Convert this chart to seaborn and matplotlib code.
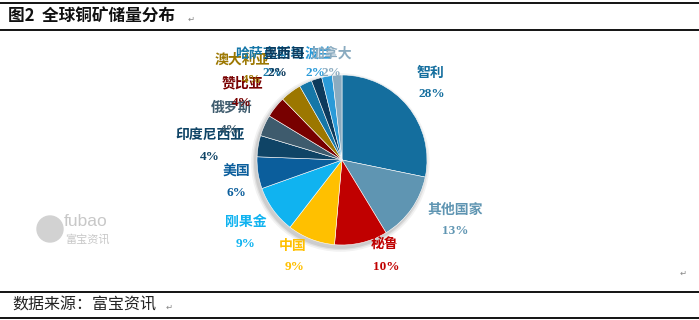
#!/usr/bin/env python3

# Import libraries
import matplotlib
matplotlib.use("Agg")
import matplotlib.pyplot as plt
import matplotlib.lines as mlines
import matplotlib.patches as mpatches
import seaborn as sns

# Data (share of global copper reserves, %)
countries = ["智利", "其他国家", "秘鲁", "中国", "刚果金", "美国", "印度尼西亚",
             "俄罗斯", "赞比亚", "澳大利亚", "哈萨克斯坦", "墨西哥", "波兰", "加拿大"]
shares = [28, 13, 10, 9, 9, 6, 4, 4, 4, 4, 2.4, 2, 2, 1.8]

# Slice / label colours
colors = ["#146e9e", "#5f95b2", "#c00000", "#ffc000", "#10b3f0", "#0b5e9c", "#0f4466",
          "#3e5b6d", "#780000", "#9c7700", "#1677a8", "#0d3a5c", "#2a9ad8", "#8aabc0"]

# Label anchors (name, percent) in pixels of the 699x320 picture
name_px = [(430, 73), (455, 210), (385, 245), (293, 246), (246, 222), (236, 172), (210, 135),
           (232, 108), (242, 83), (242, 60), (270, 54), (284, 54), (318, 54), (332, 54)]
pct_px = [(432, 94), (455, 231), (386, 267), (295, 267), (246, 244), (236, 193), (210, 157),
          (230, 130), (242, 103), (252, 80), (272, 73), (277, 73), (315, 73), (331, 73)]

W, H = 699, 320
CX, CY, R = 342, 160, 85
CJK = ["Noto Sans CJK SC", "DejaVu Sans"]


def px2data(p):
    ''' Convert a picture pixel to pie data units (radius = 1). '''
    return (p[0] - CX) / R, (CY - p[1]) / R


def plot():
    sns.set_style("white")
    plt.rcParams["font.family"] = CJK

    fig = plt.figure(figsize=(W / 100, H / 100), dpi=100)

    # Axes placed so the pie sits at (CX, CY) with radius R pixels
    ax_w, ax_h = 400, 240
    ax = fig.add_axes([(CX - ax_w / 2) / W, (H - CY - ax_h / 2) / H, ax_w / W, ax_h / H])

    # soft shadow under the pie
    for k, a in [(1.05, 0.10), (1.03, 0.15), (1.015, 0.2)]:
        ax.add_patch(mpatches.Circle((-0.02, -0.03), k, color="#808080", alpha=a, lw=0))

    ax.pie(shares, colors=colors, startangle=90, counterclock=False,
           wedgeprops=dict(linewidth=0.4, edgecolor="white"))
    ax.set_aspect("auto")
    ax.set_xlim(-ax_w / 2 / R, ax_w / 2 / R)
    ax.set_ylim(-ax_h / 2 / R, ax_h / 2 / R)
    ax.axis("off")

    for name, val, col, npx, ppx in zip(countries, shares, colors, name_px, pct_px):
        x, y = px2data(npx)
        ax.text(x, y, name, color=col, fontsize=10, fontweight="bold",
                ha="center", va="center", family=CJK)
        x, y = px2data(ppx)
        ax.text(x, y, "{:.0f}%".format(val), color=col, fontsize=9.5, fontweight="bold",
                ha="center", va="center", family=["Liberation Serif", "DejaVu Serif"])

    # Horizontal rules of the document table
    for yp in [3, 30, 292, 318]:
        fig.add_artist(mlines.Line2D([0, 1], [1 - yp / H, 1 - yp / H], color="black",
                                     linewidth=1.3, transform=fig.transFigure))

    # Title and source
    fig.text(8 / W, 1 - 17 / H, "图2  全球铜矿储量分布", fontsize=12, fontweight="bold",
             va="center", ha="left", color="#111111", family=CJK)
    fig.text(188 / W, 1 - 19 / H, "↵", fontsize=6, color="#888888", va="center", family=CJK)
    fig.text(12 / W, 1 - 305 / H, "数据来源：富宝资讯", fontsize=11.5,
             va="center", ha="left", color="#222222", family=CJK)
    fig.text(166 / W, 1 - 307 / H, "↵", fontsize=6, color="#888888", va="center", family=CJK)
    fig.text(680 / W, 1 - 273 / H, "↵", fontsize=6, color="#888888", va="center", family=CJK)

    # Faint fubao watermark
    fig.add_artist(mpatches.Ellipse((50 / W, 1 - 229 / H), 26 / W, 26 / H,
                                    color="#d2d2d2", transform=fig.transFigure))
    fig.text(64 / W, 1 - 221 / H, "fubao", fontsize=12.5, color="#c8c8c8",
             va="center", ha="left", family=["Liberation Sans", "DejaVu Sans"])
    fig.text(65 / W, 1 - 239 / H, "富宝资讯", fontsize=8, color="#c8c8c8",
             va="center", ha="left", family=CJK)

    return fig


def main():
    fig = plot()
    fig.savefig("out.png", dpi=100)


if __name__ == '__main__':
    main()
